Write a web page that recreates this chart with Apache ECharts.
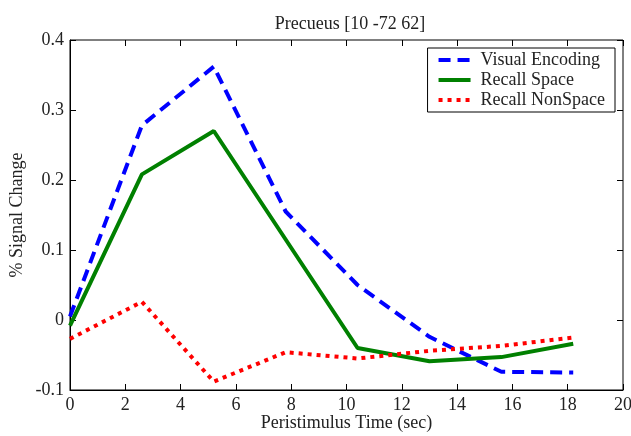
<!DOCTYPE html>
<html>
<head>
<meta charset="utf-8">
<script src="https://cdn.jsdelivr.net/npm/echarts@6/dist/echarts.min.js"></script>
<style>
  html, body { margin: 0; padding: 0; background: #fff; }
  #chart { width: 631px; height: 436px; }
</style>
</head>
<body>
<div id="chart"></div>
<script>
var times = [0, 2.6, 5.2, 7.8, 10.4, 13, 15.6, 18.2];
var visualEncoding = [0.005, 0.278, 0.362, 0.155, 0.05, -0.024, -0.074, -0.075];
var recallSpace = [-0.008, 0.208, 0.27, 0.115, -0.04, -0.059, -0.053, -0.034];
var recallNonSpace = [-0.027, 0.026, -0.088, -0.046, -0.055, -0.044, -0.037, -0.025];

var FONT = 'Liberation Serif';

function pairs(vals){
  return vals.map(function(v, i){ return [times[i], v]; });
}

var chart = echarts.init(document.getElementById('chart'));

chart.setOption({
  animation: false,
  title: {
    text: 'Precueus [10 -72 62]',
    left: 345, top: 10, textAlign: 'center',
    textStyle: { fontFamily: FONT, fontSize: 18, fontWeight: 'normal', color: '#222' }
  },
  grid: {
    left: 70, right: 8, top: 40, bottom: 46, outerBoundsMode: 'none',
    show: true, borderColor: '#000', borderWidth: 1
  },
  legend: {
    orient: 'vertical', right: 16, top: 48,
    borderColor: '#000', borderWidth: 1, padding: [3, 10, 3, 9],
    itemWidth: 32, itemHeight: 10, itemGap: 2,
    itemStyle: { opacity: 0 },
    lineStyle: { width: 4 },
    textStyle: { fontFamily: FONT, fontSize: 18, color: '#222', padding: [0, 0, 0, 5] },
    data: ['Visual Encoding', 'Recall Space', 'Recall NonSpace']
  },
  xAxis: [{
    type: 'value', min: 0, max: 20, interval: 2,
    name: 'Peristimulus Time (sec)', nameLocation: 'middle', nameGap: 24, nameMoveOverlap: false,
    nameTextStyle: { fontFamily: FONT, fontSize: 18, color: '#222' },
    axisLine: { onZero: false, lineStyle: { color: '#000' } },
    axisTick: { inside: true, length: 6, lineStyle: { color: '#000' } },
    axisLabel: { fontFamily: FONT, fontSize: 18, color: '#222', margin: 6 },
    splitLine: { show: false }
  }, {
    type: 'value', min: 0, max: 20, interval: 2, position: 'top',
    axisLine: { show: false, onZero: false },
    axisTick: { inside: true, length: 6, lineStyle: { color: '#000' } },
    axisLabel: { show: false }, splitLine: { show: false }
  }],
  yAxis: [{
    type: 'value', min: -0.1, max: 0.4, interval: 0.1,
    name: '% Signal Change', nameLocation: 'middle', nameGap: 44, nameMoveOverlap: false,
    nameTextStyle: { fontFamily: FONT, fontSize: 18, color: '#222' },
    axisLine: { show: true, onZero: false, lineStyle: { color: '#000' } },
    axisTick: { show: true, inside: true, length: 6, lineStyle: { color: '#000' } },
    axisLabel: {
      fontFamily: FONT, fontSize: 18, color: '#222', margin: 6,
      formatter: function(v){ return Math.abs(v) < 1e-9 ? '0' : v.toFixed(1); }
    },
    splitLine: { show: false }
  }, {
    type: 'value', min: -0.1, max: 0.4, interval: 0.1, position: 'right',
    axisLine: { show: false, onZero: false },
    axisTick: { show: true, inside: true, length: 6, lineStyle: { color: '#000' } },
    axisLabel: { show: false }, splitLine: { show: false }
  }],
  series: [{
    name: 'Visual Encoding', type: 'line', showSymbol: false, symbol: 'none',
    data: pairs(visualEncoding),
    itemStyle: { color: '#0000ff' },
    lineStyle: { color: '#0000ff', width: 4, type: [12, 7] }
  }, {
    name: 'Recall Space', type: 'line', showSymbol: false, symbol: 'none',
    data: pairs(recallSpace),
    itemStyle: { color: '#008000' },
    lineStyle: { color: '#008000', width: 4 }
  }, {
    name: 'Recall NonSpace', type: 'line', showSymbol: false, symbol: 'none',
    data: pairs(recallNonSpace),
    itemStyle: { color: '#ff0000' },
    lineStyle: { color: '#ff0000', width: 4, type: [4, 5] }
  }]
});
</script>
</body>
</html>
